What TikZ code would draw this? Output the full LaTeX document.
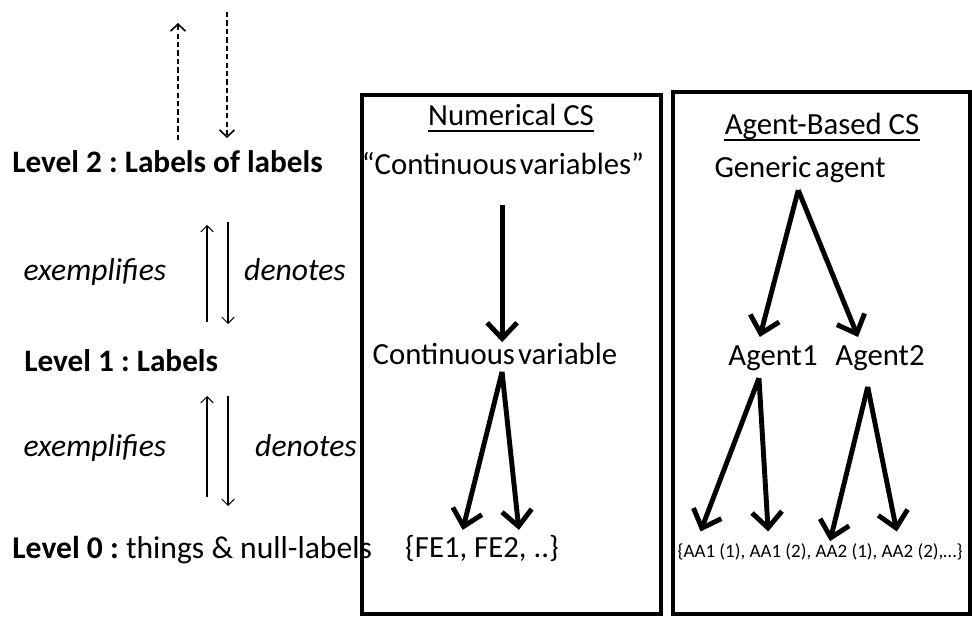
\documentclass[tikz,border=0pt]{standalone}
\usepackage{fontspec}
\setmainfont{Carlito}
\usetikzlibrary{arrows.meta}
\frenchspacing

\tikzset{
	txt/.style={inner sep=0pt, text height=12.6pt, text depth=3.9pt, font=\fontsize{17.5}{21}\selectfont},
	lvl/.style={font=\fontsize{17.8}{21}\selectfont\bfseries},
	rel/.style={font=\fontsize{18}{21}\selectfont\itshape},
	small/.style={text height=7.7pt, text depth=2.4pt, font=\fontsize{10.8}{12}\selectfont},
	big/.style={line width=2.8pt, -{Straight Barb[length=9pt,width=17pt]}},
	thinarr/.style={line width=0.6pt, -{Straight Barb[length=3.5pt,width=7pt]}},
	dasharr/.style={thinarr, line width=0.9pt, dash pattern=on 3pt off 1.8pt, -{Straight Barb[length=4pt,width=8.5pt]}},
	boxline/.style={line width=2pt},
	uline/.style={line width=0.9pt},
}

\begin{document}
\begin{tikzpicture}[x=0.02cm, y=-0.02cm, every node/.style={txt}]
\useasboundingbox (0,0) rectangle (972,617);

% levels
\node[lvl, anchor=west] (l2) at (12,165) {Level 2 : Labels of labels};
\node[rel] (ex1) at (95,273) {exemplifies};
\node[rel] (de1) at (295,273) {denotes};
\node[lvl, anchor=west] (l1) at (24,364) {Level 1 : Labels};
\node[rel] (ex0) at (95,449) {exemplifies};
\node[rel] (de0) at (306,449) {denotes};
\node[anchor=west, font=\fontsize{18}{21}\selectfont] (l0) at (12,551) {\textbf{Level 0 :} things \& null-labels};

\foreach \n/\x/\a/\b/\s in {d1/178/140/23/dasharr, d2/227/12/138/dasharr, e1/207/322/225/thinarr, n1/228/222/324/thinarr, e0/207/497/396/thinarr, n0/228/396/506/thinarr}{
	\coordinate (\n s) at (\x,\a);
	\coordinate (\n e) at (\x,\b);
	\draw[\s] (\n s) -- (\n e);
}

% numerical CS
\node (ncs) at (511,118) {Numerical CS};
\node (cvs) at (503,167) {“Continuous\hspace{0.1em}variables”};
\node (cv) at (495,357) {Continuous\hspace{0.1em}variable};
\node (fe) at (482,550) {\{FE1, FE2, ..\}};

% agent-based CS
\node (abcs) at (822,127) {Agent-Based CS};
\node (ga) at (800,170) {Generic\hspace{0.12em}agent};
\node (a1) at (773,358) {Agent1};
\node (a2) at (880,358) {Agent2};
\node[small] (aa) at (820,553) {\{AA1 (1), AA1 (2), AA2 (1), AA2 (2),…\}};

\foreach \u in {ncs,abcs}{
	\draw[uline] ([yshift=-3pt]\u.base west) -- ([yshift=-3pt]\u.base east);
}

\coordinate (cvt) at ([xshift=-0.5pt,yshift=-13pt]cvs.south);
\coordinate (cvi) at (cvt |- cv.north);
\coordinate (cvb) at ([xshift=4pt]cv.south);
\coordinate (fe1) at ([xshift=-11pt,yshift=3pt]fe.north);
\coordinate (fe2) at ([xshift=21pt,yshift=3pt]fe.north);
\coordinate (gab) at ([xshift=-1pt,yshift=-3pt]ga.south);
\coordinate (a1t) at ([xshift=-7.5pt,yshift=3.5pt]a1.north);
\coordinate (a2t) at ([xshift=-12.5pt,yshift=3.5pt]a2.north);
\coordinate (a1b) at ([xshift=-8pt,yshift=-3pt]a1.south);
\coordinate (a2b) at ([xshift=-7pt,yshift=-8pt]a2.south);
\coordinate (aa1) at ([xshift=-68pt,yshift=7pt]aa.north);
\coordinate (aa2) at ([xshift=-29.5pt,yshift=7pt]aa.north);
\coordinate (aa3) at ([xshift=5.7pt,yshift=1.5pt]aa.north);
\coordinate (aa4) at ([xshift=43.7pt,yshift=7pt]aa.north);

\foreach \u/\v in {
cvt/cvi%
,cvb/fe1%
,cvb/fe2%
,gab/a1t%
,gab/a2t%
,a1b/aa1%
,a1b/aa2%
,a2b/aa3%
,a2b/aa4%
}{
	\draw[big] (\u) -- (\v);
}

% frames
\draw[boxline] (362,95) rectangle (661,614);
\draw[boxline] (673,92) rectangle (970,614);

\end{tikzpicture}
\end{document}
